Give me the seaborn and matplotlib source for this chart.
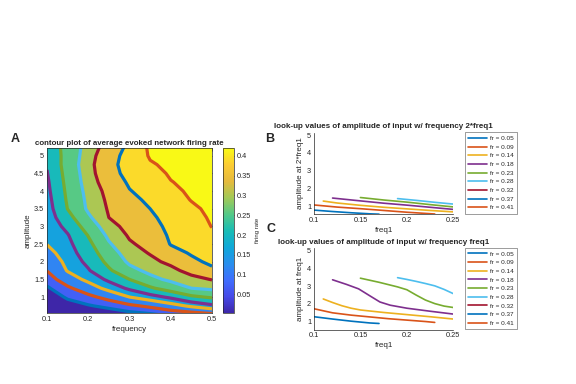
import numpy as np
import pandas as pd
import matplotlib
matplotlib.use("Agg")
import matplotlib.pyplot as plt
import seaborn as sns
from matplotlib.colors import LinearSegmentedColormap, Normalize
from matplotlib.cm import ScalarMappable
from matplotlib.lines import Line2D
from matplotlib.ticker import FuncFormatter

# ---- panel A: average evoked firing rate, rows = amplitude, columns = frequency
freq = [0.1, 0.15, 0.2, 0.25, 0.3, 0.35, 0.4, 0.45, 0.5]
amp = [0.5, 0.75, 1.0, 1.25, 1.5, 1.75, 2.0, 2.25, 2.5, 2.75, 3.0,
       3.25, 3.5, 3.75, 4.0, 4.25, 4.5, 4.75, 5.0, 5.25]
rate = [
    [0.003, 0.008, 0.014, 0.022, 0.034, 0.043, 0.058, 0.066, 0.078],
    [0.015, 0.035, 0.046, 0.061, 0.081, 0.099, 0.122, 0.148, 0.171],
    [0.028, 0.055, 0.078, 0.106, 0.140, 0.163, 0.188, 0.221, 0.236],
    [0.044, 0.082, 0.117, 0.154, 0.188, 0.223, 0.253, 0.280, 0.289],
    [0.068, 0.116, 0.151, 0.189, 0.230, 0.267, 0.289, 0.306, 0.322],
    [0.091, 0.143, 0.176, 0.223, 0.266, 0.291, 0.308, 0.335, 0.362],
    [0.108, 0.152, 0.191, 0.243, 0.288, 0.309, 0.330, 0.361, 0.378],
    [0.126, 0.160, 0.205, 0.259, 0.301, 0.323, 0.355, 0.374, 0.386],
    [0.141, 0.168, 0.218, 0.275, 0.315, 0.333, 0.372, 0.380, 0.394],
    [0.146, 0.177, 0.232, 0.290, 0.325, 0.342, 0.377, 0.386, 0.402],
    [0.150, 0.193, 0.252, 0.305, 0.334, 0.351, 0.383, 0.392, 0.411],
    [0.155, 0.213, 0.272, 0.320, 0.342, 0.361, 0.388, 0.399, 0.414],
    [0.159, 0.231, 0.287, 0.324, 0.351, 0.370, 0.393, 0.405, 0.416],
    [0.164, 0.236, 0.290, 0.328, 0.360, 0.377, 0.398, 0.411, 0.417],
    [0.169, 0.240, 0.294, 0.333, 0.368, 0.385, 0.404, 0.414, 0.418],
    [0.173, 0.244, 0.299, 0.343, 0.376, 0.392, 0.409, 0.416, 0.419],
    [0.178, 0.248, 0.302, 0.354, 0.383, 0.400, 0.413, 0.418, 0.420],
    [0.183, 0.252, 0.305, 0.357, 0.387, 0.407, 0.416, 0.419, 0.420],
    [0.187, 0.250, 0.301, 0.352, 0.386, 0.413, 0.418, 0.420, 0.420],
    [0.191, 0.251, 0.296, 0.340, 0.381, 0.416, 0.419, 0.420, 0.420],
]

fr_levels = [0.05, 0.09, 0.14, 0.18, 0.23, 0.28, 0.32, 0.37, 0.41]
fr_labels = ["fr = 0.05", "fr = 0.09", "fr = 0.14", "fr = 0.18", "fr = 0.23",
             "fr = 0.28", "fr = 0.32", "fr = 0.37", "fr = 0.41"]

# ---- panel C: amplitude at freq1 for each firing-rate level
c_f_005 = [0.10, 0.12, 0.14, 0.15, 0.16, 0.17]
c_a_005 = [1.28, 1.15, 1.03, 0.98, 0.93, 0.90]
c_f_009 = [0.10, 0.12, 0.14, 0.16, 0.18, 0.20, 0.22, 0.23]
c_a_009 = [1.73, 1.50, 1.37, 1.27, 1.17, 1.09, 1.01, 0.96]
c_f_014 = [0.11, 0.12, 0.13, 0.14, 0.15, 0.175, 0.20, 0.225, 0.25]
c_a_014 = [2.28, 2.08, 1.90, 1.76, 1.66, 1.52, 1.40, 1.28, 1.15]
c_f_018 = [0.12, 0.135, 0.148, 0.161, 0.171, 0.182, 0.20, 0.225, 0.25]
c_a_018 = [3.36, 3.10, 2.85, 2.43, 2.11, 1.93, 1.76, 1.59, 1.43]
c_f_023 = [0.15, 0.17, 0.19, 0.20, 0.21, 0.22, 0.23, 0.24, 0.25]
c_a_023 = [3.45, 3.22, 2.96, 2.80, 2.50, 2.22, 2.02, 1.88, 1.80]
c_f_028 = [0.19, 0.20, 0.21, 0.22, 0.23, 0.24, 0.25]
c_a_028 = [3.48, 3.38, 3.27, 3.15, 3.02, 2.82, 2.58]

# ---- panel B: amplitude at 2*freq1 for each firing-rate level
b_f_005 = [0.10, 0.12, 0.14, 0.16, 0.17]
b_a_005 = [0.77, 0.69, 0.62, 0.56, 0.54]
b_f_009 = [0.10, 0.125, 0.15, 0.175, 0.20, 0.23]
b_a_009 = [1.06, 0.94, 0.85, 0.75, 0.65, 0.55]
b_f_014 = [0.11, 0.125, 0.15, 0.175, 0.20, 0.225, 0.25]
b_a_014 = [1.28, 1.17, 1.04, 0.93, 0.84, 0.75, 0.67]
b_f_018 = [0.12, 0.15, 0.175, 0.20, 0.225, 0.25]
b_a_018 = [1.45, 1.29, 1.16, 1.05, 0.93, 0.81]
b_f_023 = [0.15, 0.175, 0.20, 0.225, 0.25]
b_a_023 = [1.48, 1.34, 1.22, 1.08, 0.95]
b_f_028 = [0.19, 0.21, 0.23, 0.25]
b_a_028 = [1.42, 1.32, 1.21, 1.11]

matlab_colors = ["#0072BD", "#D95319", "#EDB120", "#7E2F8E", "#77AC30",
                 "#4DBEEE", "#A2142F", "#0072BD", "#D95319"]

parula = LinearSegmentedColormap.from_list("parula", [
    (0.00, (0.2422, 0.1504, 0.6603)),
    (0.10, (0.2770, 0.2900, 0.9100)),
    (0.20, (0.2500, 0.4300, 0.9950)),
    (0.30, (0.1600, 0.5600, 0.9300)),
    (0.40, (0.0600, 0.6600, 0.8500)),
    (0.50, (0.1000, 0.7400, 0.7100)),
    (0.60, (0.3300, 0.7900, 0.5300)),
    (0.70, (0.6400, 0.7900, 0.3400)),
    (0.80, (0.9000, 0.7300, 0.2400)),
    (0.90, (0.9900, 0.8000, 0.2000)),
    (1.00, (0.9769, 0.9839, 0.0805)),
])

sns.set_style("white")
plt.rcParams["font.family"] = ["Liberation Sans", "DejaVu Sans"]
plt.rcParams["xtick.direction"] = "in"
plt.rcParams["ytick.direction"] = "in"
plt.rcParams["axes.edgecolor"] = "#262626"
plt.rcParams["axes.linewidth"] = 0.5
plt.rcParams["xtick.color"] = "#262626"
plt.rcParams["ytick.color"] = "#262626"

fig = plt.figure(figsize=(5.76, 3.84), dpi=100)
W, H = 576.0, 384.0


def frame(x0, y0, x1, y1):
    return [x0 / W, 1 - y1 / H, (x1 - x0) / W, (y1 - y0) / H]


gfmt = FuncFormatter(lambda v, p: "%g" % round(v, 3))

# ---------------- A
axA = fig.add_axes(frame(47, 148, 212, 313.3))
F, A = np.meshgrid(freq, amp)
Z = np.array(rate)
vmin, vmax = 0.002, 0.42
band_levels = [0.0] + fr_levels + [0.43]
band_mid = [vmin] + [(lo + hi) / 2 for lo, hi in zip(fr_levels[:-1], fr_levels[1:])] + [0.418]
band_colors = [parula((m - vmin) / (vmax - vmin)) for m in band_mid]
axA.contourf(F, A, Z, levels=band_levels, colors=band_colors)
axA.contour(F, A, Z, levels=fr_levels, colors="k", linewidths=0.3, alpha=0.7)
axA.contour(F, A, Z, levels=fr_levels, colors=matlab_colors, linewidths=2.3)
axA.set_xlim(0.1, 0.5)
axA.set_ylim(0.54, 5.22)
axA.set_xticks([0.1, 0.2, 0.3, 0.4, 0.5])
axA.set_yticks([1, 1.5, 2, 2.5, 3, 3.5, 4, 4.5, 5])
axA.xaxis.set_major_formatter(gfmt)
axA.yaxis.set_major_formatter(gfmt)
axA.tick_params(labelsize=5.3, length=2, width=0.4, top=True, right=True, pad=2)
axA.set_xlabel("frequency", fontsize=5.8, labelpad=2)
axA.set_ylabel("amplitude", fontsize=5.8, labelpad=2)
axA.set_title("contour plot of average evoked network firing rate",
              fontsize=5.7, fontweight="bold", pad=2.5)

cax = fig.add_axes(frame(223, 148, 234, 313.3))
cb = fig.colorbar(ScalarMappable(norm=Normalize(vmin, vmax), cmap=parula), cax=cax)
cb.set_ticks([0.05, 0.1, 0.15, 0.2, 0.25, 0.3, 0.35, 0.4])
cb.ax.yaxis.set_major_formatter(gfmt)
cb.ax.tick_params(labelsize=5.3, length=2, width=0.4, pad=2)
cb.outline.set_linewidth(0.5)
cb.set_label("firing rate", fontsize=4.3, labelpad=3)


# ---------------- B and C
def look_up_panel(box, curves, ylab, title):
    ax = fig.add_axes(frame(*box))
    frames = []
    for lab, (fx, ay) in zip(fr_labels, curves):
        frames.append(pd.DataFrame({"freq1": fx, "amp": ay, "fr": lab}))
    df = pd.concat(frames, ignore_index=True)
    pal = dict(zip(fr_labels, matlab_colors))
    sns.lineplot(data=df, x="freq1", y="amp", hue="fr", palette=pal,
                 hue_order=fr_labels[:len(curves)], estimator=None,
                 sort=False, linewidth=1.2, legend=False, ax=ax)
    ax.set_xlim(0.1, 0.25)
    ax.set_ylim(0.55, 5.15)
    ax.set_xticks([0.1, 0.15, 0.2, 0.25])
    ax.set_yticks([1, 2, 3, 4, 5])
    ax.xaxis.set_major_formatter(gfmt)
    ax.tick_params(labelsize=5.3, length=2, width=0.4, pad=2)
    sns.despine(ax=ax)
    ax.set_xlabel("freq1", fontsize=5.8, labelpad=2)
    ax.set_ylabel(ylab, fontsize=5.8, labelpad=2)
    ax.set_title(title, fontsize=5.8, fontweight="bold", pad=3)
    handles = [Line2D([], [], color=c, lw=1.2) for c in matlab_colors]
    leg = ax.legend(handles, fr_labels, loc="upper left",
                    bbox_to_anchor=(465 / W, 1 - box[1] / H),
                    bbox_transform=fig.transFigure, fontsize=4.6,
                    frameon=True, fancybox=False, edgecolor="#262626",
                    handlelength=3.0, handletextpad=0.4, labelspacing=0.5,
                    borderpad=0.5, borderaxespad=0)
    leg.get_frame().set_linewidth(0.4)
    return ax


curvesB = [(b_f_005, b_a_005), (b_f_009, b_a_009), (b_f_014, b_a_014),
           (b_f_018, b_a_018), (b_f_023, b_a_023), (b_f_028, b_a_028)]
curvesC = [(c_f_005, c_a_005), (c_f_009, c_a_009), (c_f_014, c_a_014),
           (c_f_018, c_a_018), (c_f_023, c_a_023), (c_f_028, c_a_028)]

look_up_panel((314, 132.5, 453.3, 214), curvesB, "amplitude at 2*freq1",
              "look-up values of amplitude of input w/ frequency 2*freq1")
look_up_panel((314, 248, 453.3, 329.7), curvesC, "amplitude at freq1",
              "look-up values of amplitude of input w/ frequency freq1")

fig.text(15 / W, 1 - 139 / H, "A", fontsize=9, fontweight="bold", ha="center", va="center")
fig.text(270 / W, 1 - 139 / H, "B", fontsize=9, fontweight="bold", ha="center", va="center")
fig.text(271 / W, 1 - 229 / H, "C", fontsize=9, fontweight="bold", ha="center", va="center")

fig.savefig("out.png", dpi=100)
